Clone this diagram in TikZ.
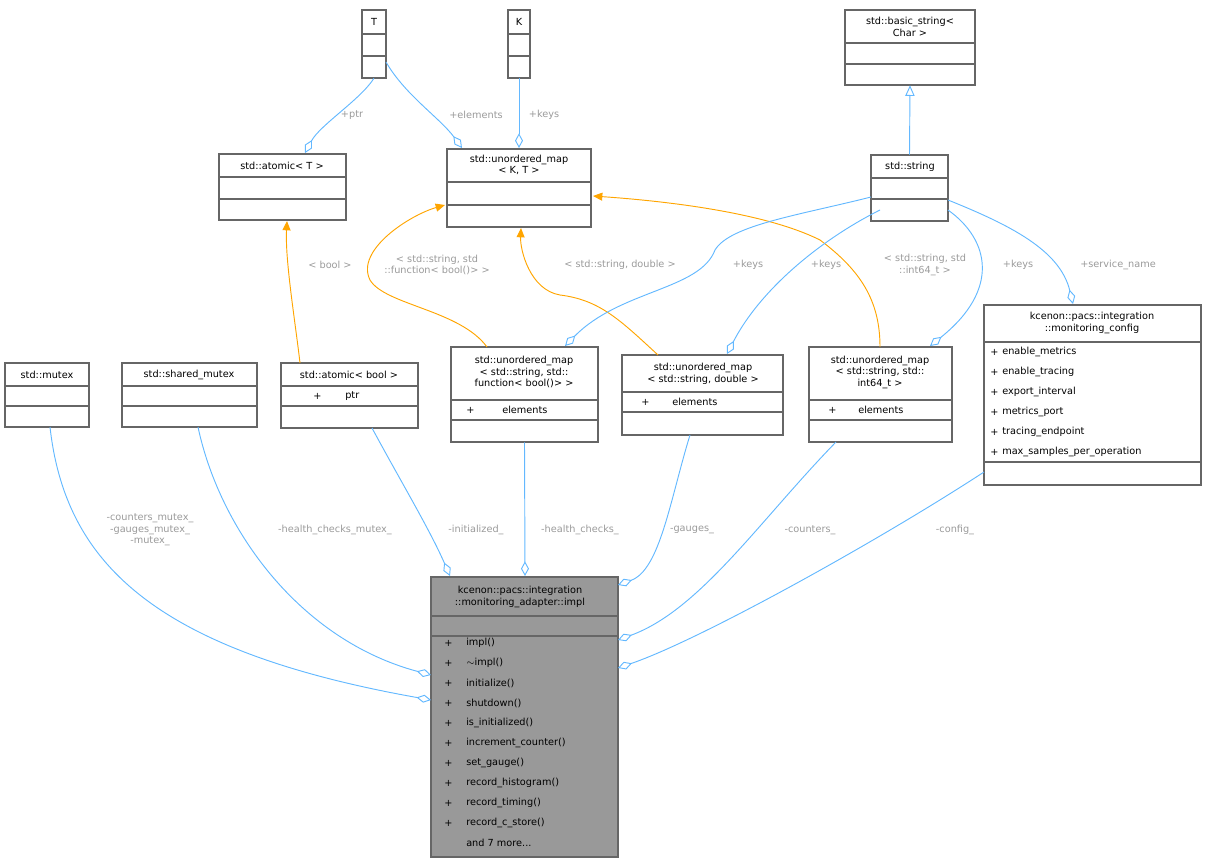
\documentclass[tikz,border=0pt]{standalone}
\usepackage{fontspec}
\setmainfont{DejaVu Sans}
\usetikzlibrary{arrows.meta}
\definecolor{edgeblue}{HTML}{63B8FF}
\definecolor{edgeorange}{HTML}{FFA500}
\definecolor{lblgray}{HTML}{9A9A9A}
\definecolor{boxgray}{HTML}{666666}
\definecolor{implfill}{HTML}{999999}

% box with compartments, named by its outline
\newcommand\umlbox[6][white]{%
  \draw[boxline, fill=#1] (#3,#4) rectangle (#5,#6);
  \pgfmathsetmacro\bw{(#5-#3)*0.75}\pgfmathsetmacro\bh{(#6-#4)*0.75}%
  \path (#3,#4) -- (#5,#6) node[midway, inner sep=0pt, minimum width=\bw pt, minimum height=\bh pt] (#2) {};
}
\newcommand\sep[3]{\draw[boxline] (#1,#3) -- (#2,#3);}

\begin{document}
\begin{tikzpicture}[
    x=0.75pt, y=-0.75pt,
    font=\fontsize{7.3}{8.6}\selectfont,
    boxline/.style={draw=boxgray, line width=0.8pt},
    ttl/.style={align=center, inner sep=0pt},
    mem/.style={anchor=west, inner sep=0pt},
    lbl/.style={text=lblgray, align=center, inner sep=1pt},
    agg/.style={draw=edgeblue, line width=0.7pt, -{Diamond[open, length=11pt, width=6pt]}},
    tpl/.style={draw=edgeorange, line width=0.7pt, -{Triangle[length=7pt, width=6pt]}},
    inh/.style={draw=edgeblue, line width=0.7pt, -{Triangle[open, length=8pt, width=7pt]}}
]
\useasboundingbox (0,0) rectangle (1207,863);

% top templates
\umlbox{T}{362}{10}{386}{78}
\node[ttl] at (374,22) {T}; \sep{362}{386}{34} \sep{362}{386}{56}
\umlbox{K}{508}{10}{530}{78}
\node[ttl] at (519,22) {K}; \sep{508}{530}{34} \sep{508}{530}{56}
\umlbox{basicstr}{845}{10}{975}{85}
\node[ttl] at (910,27) {std::basic\_string<\\Char >}; \sep{845}{975}{43} \sep{845}{975}{64}

% second row
\umlbox{atomicT}{219}{154}{346}{220}
\node[ttl] at (282,166) {std::atomic< T >}; \sep{219}{346}{177} \sep{219}{346}{199}
\umlbox{mapKT}{447}{149}{591}{227}
\node[ttl] at (519,165) {std::unordered\_map\\< K, T >}; \sep{447}{591}{182} \sep{447}{591}{205}
\umlbox{string}{871}{155}{948}{221}
\node[ttl] at (910,167) {std::string}; \sep{871}{948}{178} \sep{871}{948}{199}

% third row
\umlbox{mutex}{5}{363}{89}{427}
\node[ttl] at (47,375) {std::mutex}; \sep{5}{89}{386} \sep{5}{89}{406}
\umlbox{shmutex}{122}{363}{257}{427}
\node[ttl] at (189,375) {std::shared\_mutex}; \sep{122}{257}{386} \sep{122}{257}{406}
\umlbox{atomicB}{281}{363}{418}{428}
\node[ttl] at (349,375) {std::atomic< bool >}; \sep{281}{418}{386} \sep{281}{418}{406}
\node[mem] at (313,396) {+}; \node[mem] at (345,396) {ptr};
\umlbox{mapFn}{451}{347}{598}{442}
\node[ttl] at (524,372) {std::unordered\_map\\< std::string, std::\\function< bool()> >}; \sep{451}{598}{400} \sep{451}{598}{420}
\node[mem] at (466,410) {+}; \node[mem] at (502,410) {elements};
\umlbox{mapDbl}{622}{355}{783}{435}
\node[ttl] at (703,374) {std::unordered\_map\\< std::string, double >}; \sep{622}{783}{392} \sep{622}{783}{412}
\node[mem] at (641,402) {+}; \node[mem] at (672,402) {elements};
\umlbox{mapInt}{809}{347}{952}{442}
\node[ttl] at (880,372) {std::unordered\_map\\< std::string, std::\\int64\_t >}; \sep{809}{952}{400} \sep{809}{952}{420}
\node[mem] at (828,410) {+}; \node[mem] at (858,410) {elements};
\umlbox{config}{984}{305}{1201}{485}
\node[ttl] at (1092,323) {kcenon::pacs::integration\\::monitoring\_config}; \sep{984}{1201}{342} \sep{984}{1201}{462}
\foreach \m [count=\i from 0] in {enable\_metrics,enable\_tracing,export\_interval,metrics\_port,tracing\_endpoint,max\_samples\_per\_operation}{
  \node[mem] at (990,352+\i*20) {+};
  \node[mem] at (1002,352+\i*20) {\m};
}

% main class
\umlbox[implfill]{impl}{431}{577}{618}{857}
\node[ttl] at (520,597) {kcenon::pacs::integration\\::monitoring\_adapter::impl}; \sep{431}{618}{616} \sep{431}{618}{636}
\foreach \m [count=\i from 0] in {impl(),$\sim$impl(),initialize(),shutdown(),is\_initialized(),increment\_counter(),set\_gauge(),record\_histogram(),record\_timing(),record\_c\_store()}{
  \node[mem] at (444,643+\i*20) {+};
  \node[mem] at (466,643+\i*20) {\m};
}
\node[mem] at (466,843) {and 7 more...};

% template parameter edges
\draw[agg] (T.south) .. controls (360,100) and (320,125) .. (305,153);
\node[lbl] at (352,115) {+ptr};
\draw[agg] (386,62) .. controls (405,95) and (440,118) .. (462,148);
\node[lbl] at (476,115) {+elements};
\draw[agg] (K.south) -- (519,148);
\node[lbl] at (544,115) {+keys};
\draw[inh] (string.north) -- (basicstr.south);

% instantiation edges
\draw[tpl] (300,363) .. controls (295,320) and (285,260) .. (287,221);
\node[lbl] at (330,265) {< bool >};
\draw[tpl] (487,347) .. controls (460,310) and (385,305) .. (370,280) .. controls (355,250) and (410,215) .. (445,205);
\node[lbl] at (437,265) {< std::string, std\\::function< bool()> >};
\draw[tpl] (658,355) .. controls (620,320) and (600,300) .. (560,295) .. controls (530,290) and (520,250) .. (521,228);
\node[lbl] at (620,265) {< std::string, double >};
\draw[tpl] (880,347) .. controls (880,300) and (860,270) .. (820,240) .. controls (760,210) and (650,200) .. (593,196);
\node[lbl] at (925,265) {< std::string, std\\::int64\_t >};

% string members
\draw[agg] (871,197) .. controls (800,215) and (730,225) .. (715,250) .. controls (700,290) and (620,290) .. (565,346);
\node[lbl] at (748,265) {+keys};
\draw[agg] (880,210) .. controls (820,240) and (760,290) .. (727,354);
\node[lbl] at (826,265) {+keys};
\draw[agg] (948,210) .. controls (990,240) and (1000,290) .. (930,346);
\node[lbl] at (1018,265) {+keys};
\draw[agg] (948,200) .. controls (1010,225) and (1060,250) .. (1073,304);
\node[lbl] at (1118,265) {+service\_name};

% members of impl
\draw[agg] (50,427) .. controls (65,560) and (150,650) .. (431,700);
\node[lbl] at (150,530) {-counters\_mutex\_\\-gauges\_mutex\_\\-mutex\_};
\draw[agg] (198,427) .. controls (220,530) and (300,640) .. (431,675);
\node[lbl] at (335,530) {-health\_checks\_mutex\_};
\draw[agg] (372,428) .. controls (400,480) and (430,530) .. (450,576);
\node[lbl] at (476,530) {-initialized\_};
\draw[agg] (mapFn.south) -- (525,576);
\node[lbl] at (580,530) {-health\_checks\_};
\draw[agg] (690,435) .. controls (670,500) and (660,570) .. (618,585);
\node[lbl] at (692,530) {-gauges\_};
\draw[agg] (836,442) .. controls (760,520) and (700,610) .. (618,640);
\node[lbl] at (810,530) {-counters\_};
\draw[agg] (984,472) .. controls (880,540) and (700,640) .. (618,668);
\node[lbl] at (955,530) {-config\_};
\end{tikzpicture}
\end{document}
